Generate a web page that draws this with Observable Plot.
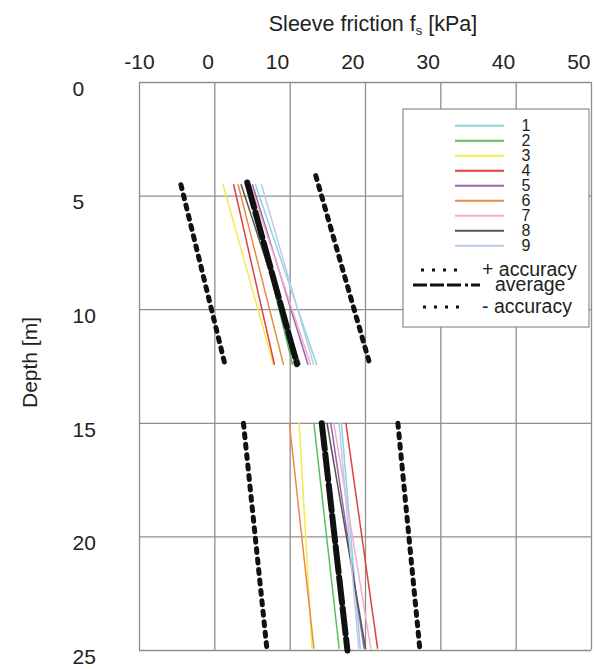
<!DOCTYPE html>
<html><head><meta charset="utf-8">
<script src="https://cdn.jsdelivr.net/npm/d3@7"></script>
<script src="https://cdn.jsdelivr.net/npm/@observablehq/plot@0.6"></script>
<style>body{margin:0;background:#fff} svg{display:block}</style>
</head><body><div id="chart"></div>
<script>
// ---- data ----
const xTicks = [-10, 0, 10, 20, 30, 40, 50];
const yTicks = [0, 5, 10, 15, 20, 25];
const seriesNames = ["1", "2", "3", "4", "5", "6", "7", "8", "9"];
const seriesColors = ["#8fd3dc", "#5cbf5a", "#f2ea4a", "#e2403c", "#9f62ad", "#ec8a45", "#f1aecb", "#555555", "#bccbe9"];
// upper measured interval (depth, m)
const upperDepths = [4.5, 12.4];
const upperTop =    [5.4, 4.5, 1.1, 2.5, 5.0, 3.1, 4.7, 3.5, 6.2];
const upperBottom = [13.5, 10.3, 7.75, 7.9, 12.35, 9.1, 12.7, 11.3, 13.1];
// lower measured interval (depth, m)
const lowerDepths = [15, 24.9];
const lowerTop =    [16.8, 13.15, 11.2, 17.4, 15.4, 9.9, 15.8, 14.9, 16.5];
const lowerBottom = [19.3, 16.5, 12.9, 21.6, 19.8, 13.15, 20.7, 20.0, 19.1];
// average and accuracy bounds: [depth, fs]
const averageUpper = [[4.4, 4.3], [12.4, 10.9]];
const averageLower = [[15, 14.2], [25, 17.6]];
const plusAccUpper = [[4.1, 13.4], [12.25, 20.45]];
const plusAccLower = [[15, 24.3], [24.9, 27.2]];
const minusAccUpper = [[4.5, -4.5], [12.35, 1.3]];
const minusAccLower = [[15, 3.8], [24.9, 6.9]];
const legendExtra = ["+ accuracy", "average", "- accuracy"];
const xTitle = "Sleeve friction f";
const xTitleSub = "s";
const xTitleUnit = " [kPa]";
const yTitle = "Depth [m]";

// ---- build tidy rows ----
const seriesRows = [];
seriesNames.forEach((s, i) => {
  seriesRows.push({s, seg: s + "u", depth: upperDepths[0], fs: upperTop[i]});
  seriesRows.push({s, seg: s + "u", depth: upperDepths[1], fs: upperBottom[i]});
  seriesRows.push({s, seg: s + "l", depth: lowerDepths[0], fs: lowerTop[i]});
  seriesRows.push({s, seg: s + "l", depth: lowerDepths[1], fs: lowerBottom[i]});
});
const toRows = (arr, seg) => arr.map(([depth, fs]) => ({seg, depth, fs}));
const avgRows = [...toRows(averageUpper, "u"), ...toRows(averageLower, "l")];
const accRows = [...toRows(plusAccUpper, "pu"), ...toRows(plusAccLower, "pl"),
                 ...toRows(minusAccUpper, "mu"), ...toRows(minusAccLower, "ml")];

const FONT = "'Liberation Sans', Arial, sans-serif";
const GRID = "#8e8e8e";
const TXT = "#222";
const FS = 21;

const chart = Plot.plot({
  width: 594, height: 669,
  marginLeft: 139, marginRight: 3, marginTop: 82, marginBottom: 19,
  style: {fontFamily: FONT, background: "#fff"},
  x: {domain: [-10, 50], axis: null},
  y: {domain: [0, 25], reverse: true, axis: null},
  color: {domain: seriesNames, range: seriesColors},
  marks: [
    Plot.ruleX(xTicks, {x: d => d, stroke: GRID, strokeWidth: 1.3}),
    Plot.ruleY(yTicks, {y: d => d, stroke: GRID, strokeWidth: 1.3}),
    Plot.line(seriesRows, {x: "fs", y: "depth", z: "seg", stroke: "s", strokeWidth: 1.5}),
    Plot.line(avgRows, {x: "fs", y: "depth", z: "seg", stroke: "#111", strokeWidth: 6, strokeDasharray: "26,5"}),
    Plot.line(accRows, {x: "fs", y: "depth", z: "seg", stroke: "#111", strokeWidth: 5, strokeDasharray: "4,6.5"}),
    // x tick labels (top)
    Plot.text(xTicks.filter(d => d < 0), {x: d => d, text: d => String(d), frameAnchor: "top", dy: -14, lineAnchor: "bottom", textAnchor: "middle", fontSize: FS, fill: TXT}),
    Plot.text(xTicks.filter(d => d >= 0), {x: d => d, text: d => String(d), frameAnchor: "top", dy: -14, dx: -1, lineAnchor: "bottom", textAnchor: "end", fontSize: FS, fill: TXT}),
    // y tick labels
    Plot.text(yTicks, {y: d => d, text: d => String(d), frameAnchor: "left", dx: -67, dy: 6.5, textAnchor: "start", fontSize: FS, fill: TXT}),
    // y title
    Plot.text([yTitle], {text: d => d, frameAnchor: "left", dx: -109, dy: -4, rotate: -90, textAnchor: "middle", fontSize: FS, fill: TXT})
  ]
});
document.getElementById("chart").append(chart);

// ---- title with subscript ----
const svg = d3.select(chart);
const t = svg.append("text").attr("x", 373).attr("y", 31).attr("text-anchor", "middle")
  .attr("font-family", FONT).attr("font-size", 21.5).attr("fill", TXT);
t.append("tspan").text(xTitle);
t.append("tspan").attr("font-size", 13).attr("dy", 4).text(xTitleSub);
t.append("tspan").attr("dy", -4).text(xTitleUnit);

// ---- legend ----
const lg = svg.append("g").attr("font-family", FONT).attr("fill", TXT);
lg.append("rect").attr("x", 403).attr("y", 109).attr("width", 186).attr("height", 218)
  .attr("fill", "#fff").attr("stroke", GRID).attr("stroke-width", 1.2);
seriesNames.forEach((s, i) => {
  const y = 125.7 + 15 * i;
  lg.append("line").attr("x1", 455).attr("x2", 504).attr("y1", y).attr("y2", y)
    .attr("stroke", seriesColors[i]).attr("stroke-width", 2);
  lg.append("text").attr("x", 526).attr("y", y).attr("dy", "0.36em").attr("text-anchor", "middle")
    .attr("font-size", 16).text(s);
});
const extraStyles = [
  {x1: 421, x2: 458, y: 270, dash: "3,8", w: 3, tx: 482, ty: 276},
  {x1: 413, x2: 480, y: 285, dash: "14,3,14,3,14,4,3,3", w: 3, tx: 495, ty: 291},
  {x1: 423, x2: 460, y: 307, dash: "3,8", w: 3, tx: 482, ty: 313}
];
legendExtra.forEach((label, i) => {
  const e = extraStyles[i];
  lg.append("line").attr("x1", e.x1).attr("x2", e.x2).attr("y1", e.y).attr("y2", e.y)
    .attr("stroke", "#111").attr("stroke-width", e.w).attr("stroke-dasharray", e.dash);
  lg.append("text").attr("x", e.tx).attr("y", e.ty).attr("text-anchor", "start")
    .attr("font-size", 19.5).text(label);
});
</script>
</body></html>
